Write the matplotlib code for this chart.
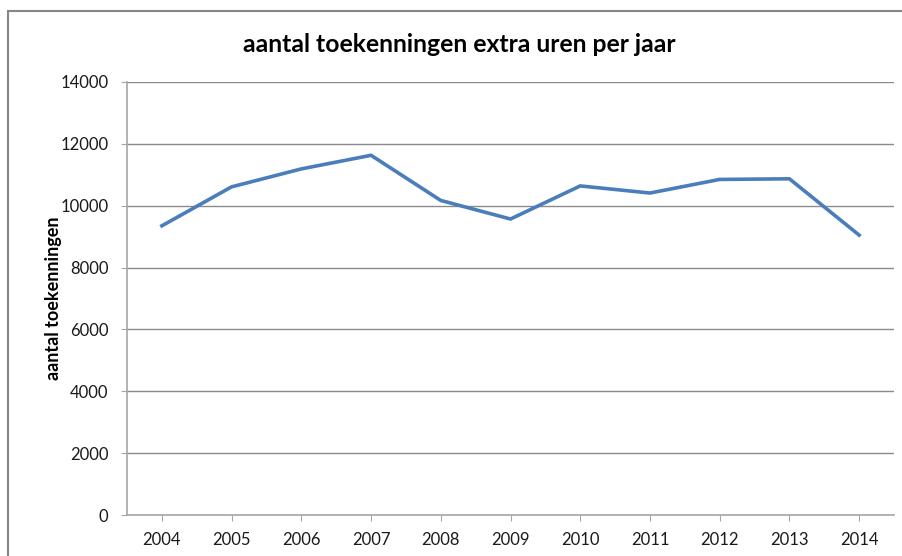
import matplotlib
matplotlib.use('Agg')
import matplotlib.pyplot as plt
from matplotlib.patches import Rectangle

plt.rcParams['font.family'] = ['Lato', 'DejaVu Sans']

# data
jaren = ['2004', '2005', '2006', '2007', '2008', '2009', '2010', '2011', '2012', '2013', '2014']
toekenningen = [9350, 10610, 11190, 11630, 10170, 9570, 10640, 10410, 10850, 10870, 9050]
y_ticks = [0, 2000, 4000, 6000, 8000, 10000, 12000, 14000]

fig = plt.figure(figsize=(9.02, 5.56), dpi=100)
ax = fig.add_axes([127/902, 1-515/556, (894-127)/902, (515-82)/556])

# chart border (partly cut off on right/bottom like the screenshot)
fig.patches.append(Rectangle((8/902, -0.1), 1.2, 1-11/556+0.1, transform=fig.transFigure,
                             fill=False, edgecolor='#868686', linewidth=1.5))

x = list(range(len(jaren)))
ax.plot(x, toekenningen, color='#4a7ebb', linewidth=2.6, solid_joinstyle='miter')

ax.set_xlim(-0.5, len(jaren) - 0.5)
ax.set_ylim(0, 14000)
ax.set_xticks(x)
ax.set_xticklabels(jaren)
ax.set_yticks(y_ticks)
ax.set_yticklabels([str(v) for v in y_ticks])

ax.grid(axis='y', color='#8a8a8a', linewidth=1)
ax.set_axisbelow(True)
for s in ['top', 'right']:
    ax.spines[s].set_visible(False)
for s in ['left', 'bottom']:
    ax.spines[s].set_color('#a6a6a6')
    ax.spines[s].set_linewidth(1.2)

ax.tick_params(axis='both', direction='out', length=4, color='#a6a6a6', labelsize=12, labelcolor='#1a1a1a')
ax.tick_params(axis='x', pad=8)
ax.tick_params(axis='y', pad=9.5)

ax.set_ylabel('aantal toekenningen', fontsize=13, fontweight='bold')
ax.yaxis.set_label_coords(-0.085, 0.5)
fig.text(459/902, 1-45/556, 'aantal toekenningen extra uren per jaar', ha='center', va='center',
         fontsize=17.8, fontweight='bold')

fig.savefig('out.png', dpi=100)
